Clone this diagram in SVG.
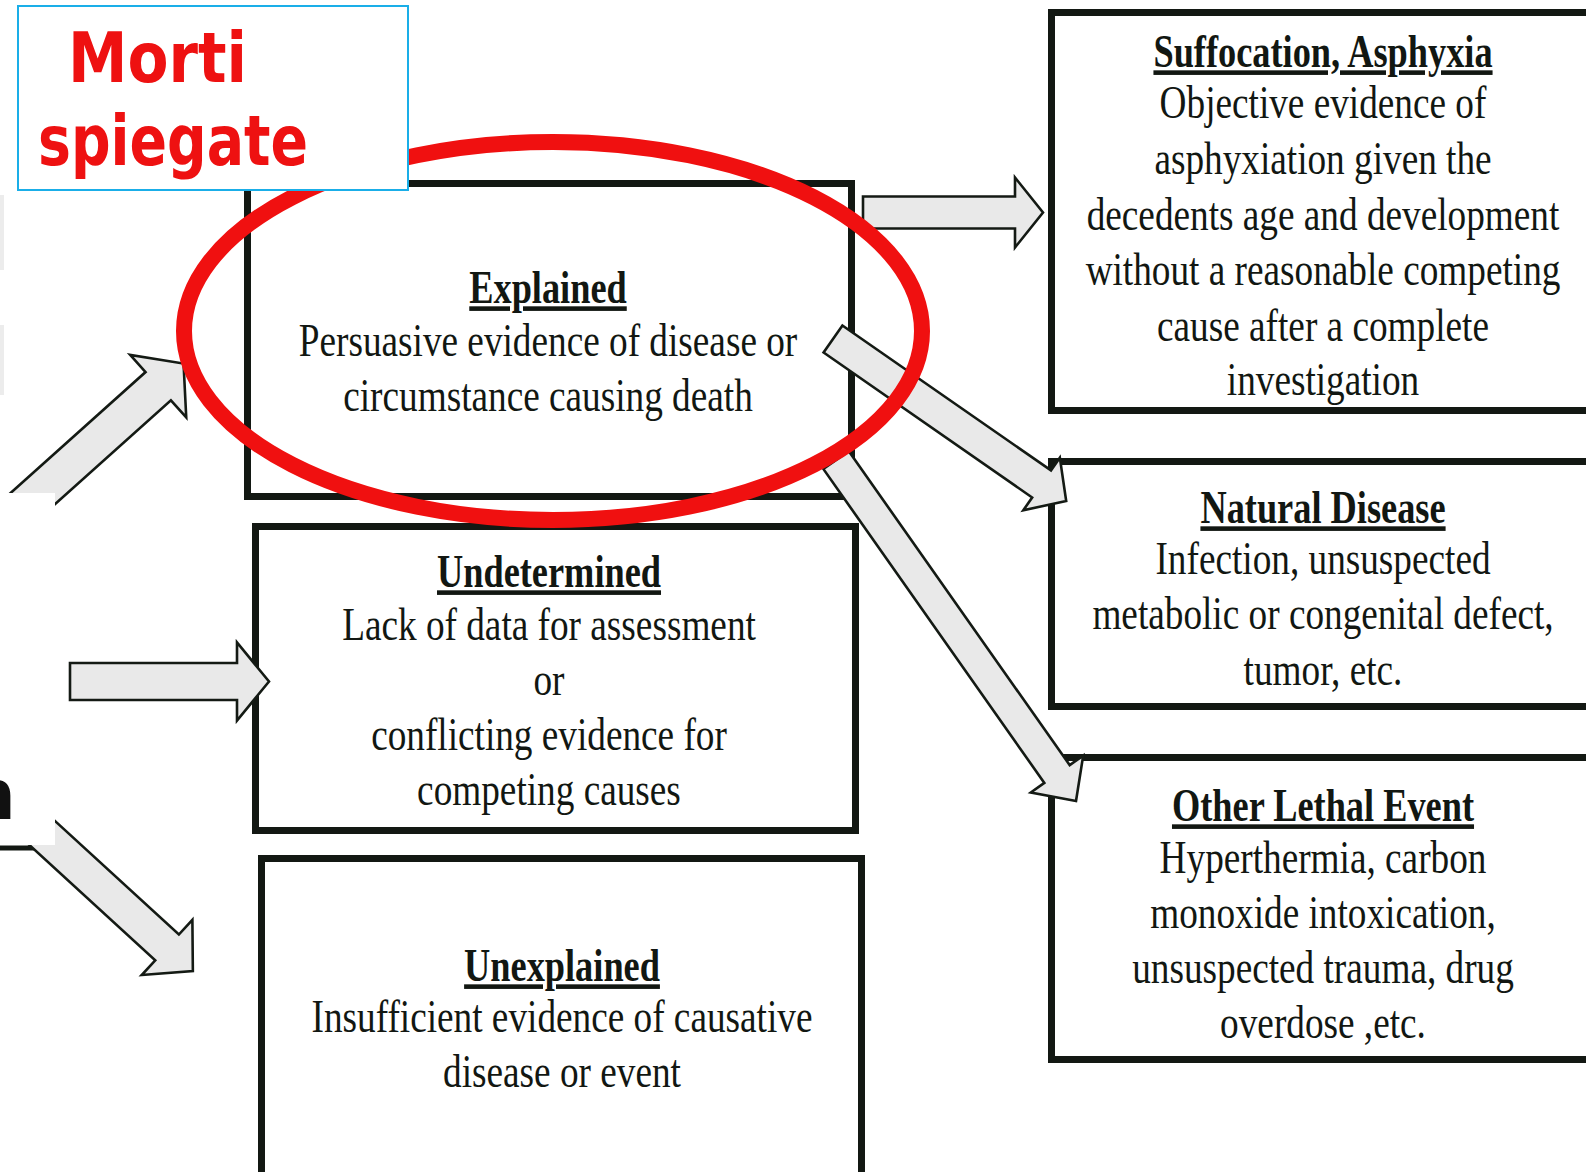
<svg xmlns="http://www.w3.org/2000/svg" width="1586" height="1172" viewBox="0 0 1586 1172">
<style>
.box{fill:#fff;stroke:#131813;stroke-width:7}
.arr{fill:#e9e9e9;stroke:#141a14;stroke-width:2.6;stroke-linejoin:miter}
.h{font-family:"Liberation Serif","Times New Roman",serif;font-size:46px;font-weight:bold;fill:#121712;text-anchor:middle;text-decoration:underline;text-decoration-thickness:4px}
.b{font-family:"Liberation Serif","Times New Roman",serif;font-size:46px;fill:#121712;text-anchor:middle}
.note{font-family:"DejaVu Sans",sans-serif;font-weight:bold;font-size:70px;fill:#ee1111}
</style>
<rect width="1586" height="1172" fill="#fff"/>
<rect x="0" y="195" width="4" height="75" fill="#ececec"/>
<rect x="0" y="325" width="4" height="70" fill="#ececec"/>

<g id="node-explained">
<rect class="box" x="247.5" y="183.5" width="604" height="313"/>
<g transform="translate(548,0) scale(0.79,1)"><text class="h" x="0" y="303">Explained</text></g>
<g transform="translate(548,0) scale(0.81,1)">
<text class="b" x="0" y="356">Persuasive evidence of disease or</text>
<text class="b" x="0" y="411">circumstance causing death</text>
</g>
</g>

<g id="node-undetermined">
<rect class="box" x="255.5" y="526.5" width="600" height="304"/>
<g transform="translate(549,0) scale(0.79,1)"><text class="h" x="0" y="587">Undetermined</text></g>
<g transform="translate(549,0) scale(0.81,1)">
<text class="b" x="0" y="640">Lack of data for assessment</text>
<text class="b" x="0" y="695">or</text>
<text class="b" x="0" y="750">conflicting evidence for</text>
<text class="b" x="0" y="805">competing causes</text>
</g>
</g>

<g id="node-unexplained">
<rect class="box" x="261.5" y="858.5" width="600" height="400"/>
<g transform="translate(562,0) scale(0.79,1)"><text class="h" x="0" y="981">Unexplained</text></g>
<g transform="translate(562,0) scale(0.81,1)">
<text class="b" x="0" y="1032">Insufficient evidence of causative</text>
<text class="b" x="0" y="1087">disease or event</text>
</g>
</g>

<g id="node-suffocation">
<rect class="box" x="1051.5" y="12.5" width="600" height="398"/>
<g transform="translate(1323,0) scale(0.79,1)"><text class="h" x="0" y="67">Suffocation, Asphyxia</text></g>
<g transform="translate(1323,0) scale(0.81,1)">
<text class="b" x="0" y="118">Objective evidence of</text>
<text class="b" x="0" y="174">asphyxiation given the</text>
<text class="b" x="0" y="230">decedents age and development</text>
<text class="b" x="0" y="285">without a reasonable competing</text>
<text class="b" x="0" y="341">cause after a complete</text>
<text class="b" x="0" y="395">investigation</text>
</g>
</g>

<g id="node-natural">
<rect class="box" x="1051.5" y="461.5" width="600" height="245"/>
<g transform="translate(1323,0) scale(0.79,1)"><text class="h" x="0" y="523">Natural Disease</text></g>
<g transform="translate(1323,0) scale(0.81,1)">
<text class="b" x="0" y="574">Infection, unsuspected</text>
<text class="b" x="0" y="629">metabolic or congenital defect,</text>
<text class="b" x="0" y="685">tumor, etc.</text>
</g>
</g>

<g id="node-other">
<rect class="box" x="1051.5" y="757.5" width="600" height="302"/>
<g transform="translate(1323,0) scale(0.79,1)"><text class="h" x="0" y="821">Other Lethal Event</text></g>
<g transform="translate(1323,0) scale(0.81,1)">
<text class="b" x="0" y="873">Hyperthermia, carbon</text>
<text class="b" x="0" y="928">monoxide intoxication,</text>
<text class="b" x="0" y="983">unsuspected trauma, drug</text>
<text class="b" x="0" y="1038">overdose ,etc.</text>
</g>
</g>

<line x1="0" y1="848" x2="50" y2="848" stroke="#131813" stroke-width="5"/>

<g id="connectors">
<path class="arr" transform="translate(863,212.5)" d="M0,-16 L152,-16 L152,-35 L180,0 L152,35 L152,16 L0,16 Z"/>
<path class="arr" transform="translate(833,339) rotate(34.8)" d="M0,-16.5 L254,-16.5 L254,-32 L284,0 L254,32 L254,16.5 L0,16.5 Z"/>
<path class="arr" transform="translate(836,460) rotate(54.86)" d="M0,-15.5 L384,-15.5 L384,-32 L417,0 L384,32 L384,15.5 L0,15.5 Z"/>
<path class="arr" transform="translate(-28,553) rotate(-41.85)" d="M0,-19 L250,-19 L250,-42 L284,0 L250,42 L250,19 L0,19 Z"/>
<path class="arr" transform="translate(19.6,812.3) rotate(42.5)" d="M0,-17.5 L200,-17.5 L200,-37.5 L235,0 L200,37.5 L200,17.5 L0,17.5 Z"/>
<path class="arr" transform="translate(70,681.5)" d="M0,-18.5 L167,-18.5 L167,-39 L199,0 L167,39 L167,18.5 L0,18.5 Z"/>
</g>

<rect x="-5" y="493" width="60" height="352" fill="#fff"/>
<text x="-34" y="819" style="font-family:'DejaVu Sans',sans-serif;font-weight:bold;font-size:70px;fill:#111">n</text>

<ellipse cx="553" cy="331" rx="369" ry="189" fill="none" stroke="#f01010" stroke-width="16"/>

<g id="node-label">
<rect x="18" y="6" width="390" height="184" fill="#fff" stroke="#1aaee8" stroke-width="2"/>
<text class="note" x="68" y="82" textLength="179" lengthAdjust="spacingAndGlyphs">Morti</text>
<text class="note" x="38" y="165" textLength="270" lengthAdjust="spacingAndGlyphs">spiegate</text>
</g>
</svg>
